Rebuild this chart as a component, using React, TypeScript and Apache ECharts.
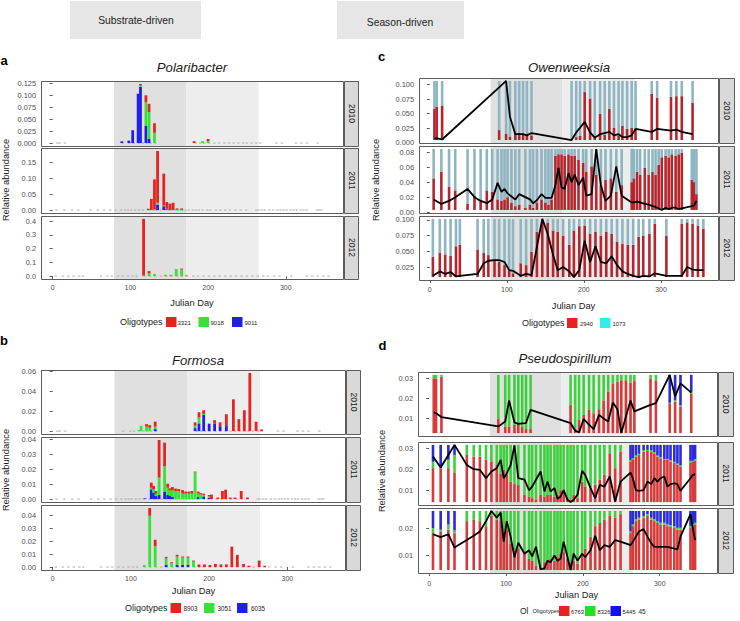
import React, { useEffect, useRef } from "react";
import * as echarts from "echarts";

// ---------- shared categories ----------
const years = ["2010", "2011", "2012"];
const springDays = [79, 172];
const summerDays = [172, 265];
const dayTicks = [0, 100, 200, 300];

// sampling days (Julian day)
const days2010 = [6, 9, 16, 90, 99, 104, 111, 116, 121, 126, 132, 184, 190, 195, 201, 208, 214, 221, 227, 233, 239, 245, 250, 256, 262, 267, 288, 295, 313, 320, 327, 341];
const days2011 = [5, 15, 25, 33, 49, 58, 66, 74, 81, 88, 93, 97, 101, 106, 111, 116, 124, 130, 134, 139, 145, 150, 154, 158, 163, 167, 171, 175, 180, 184, 188, 193, 199, 203, 210, 216, 222, 228, 235, 242, 249, 262, 265, 269, 273, 279, 284, 289, 293, 297, 301, 306, 310, 314, 319, 323, 327, 340, 343, 346];
const days2012 = [4, 13, 20, 27, 34, 39, 62, 70, 76, 84, 90, 97, 103, 108, 118, 125, 132, 139, 146, 153, 160, 166, 173, 181, 187, 194, 201, 208, 215, 222, 229, 236, 243, 250, 257, 264, 271, 277, 285, 292, 307, 327, 334, 341, 348, 355];

// ---------- a: Polaribacter (cumulative tops: 9011 blue, +9018 green, +3321 red) ----------
const aOligotypes = ["3321", "9018", "9011"];
const aDays2010 = [89, 98, 103, 110, 113, 120, 124, 131, 182, 193, 200];
const aBlue2010 = [0.0036, 0.005, 0.027, 0.104, 0.1185, 0.036, 0.0086, 0, 0, 0, 0];
const aGreen2010 = [0.0036, 0.005, 0.027, 0.104, 0.121, 0.086, 0.065, 0.0216, 0, 0.004, 0.004];
const aTotal2010 = [0.0036, 0.005, 0.027, 0.104, 0.1245, 0.1006, 0.0826, 0.0417, 0.004, 0.004, 0.0086];
const aDays2011 = [123, 127, 131, 135, 143, 147, 151, 155, 160, 166];
const aBlue2011 = [0, 0, 0, 0.017, 0.012, 0.003, 0, 0, 0, 0];
const aGreen2011 = [0, 0, 0.002, 0.023, 0.014, 0.004, 0, 0, 0.001, 0.001];
const aTotal2011 = [0.004, 0.035, 0.096, 0.185, 0.114, 0.025, 0.02, 0.023, 0.005, 0.005];
const aDays2012 = [117, 124, 131, 145, 152, 159, 166, 172];
const aBlue2012 = [0, 0, 0, 0, 0, 0, 0, 0];
const aGreen2012 = [0.005, 0.02, 0.016, 0.01, 0.01, 0.052, 0.048, 0.008];
const aTotal2012 = [0.417, 0.037, 0.016, 0.01, 0.01, 0.052, 0.055, 0.008];

// ---------- b: Formosa (cumulative tops: 6035 blue, +3051 green, +8903 red) ----------
const bOligotypes = ["8903", "3051", "6035"];
const bDays2010 = [110, 113, 120, 124, 131, 182, 187, 193, 200, 207, 214, 222, 231, 238, 245, 252, 260, 267];
const bBlue2010 = [0, 0, 0, 0, 0.002, 0.003, 0.0078, 0.0163, 0.0075, 0.0075, 0.005, 0.005, 0, 0, 0, 0, 0, 0];
const bGreen2010 = [0.001, 0.0054, 0.0045, 0.0034, 0.0045, 0.0054, 0.0136, 0.0173, 0.0075, 0.0075, 0.005, 0.005, 0, 0, 0, 0, 0, 0];
const bTotal2010 = [0.001, 0.0054, 0.007, 0.006, 0.0095, 0.0088, 0.019, 0.021, 0.0075, 0.011, 0.0088, 0.017, 0.032, 0.012, 0.021, 0.0586, 0.0095, 0.0017];
const bDays2011 = [118, 126, 129, 132, 136, 143, 147, 150, 153, 157, 161, 166, 170, 174, 178, 182, 186, 189, 193, 200, 203, 211, 217, 221, 227, 233, 241, 249];
const bBlue2011 = [0.0005, 0.0065, 0.0043, 0.002, 0.0027, 0.005, 0.0027, 0.002, 0.0013, 0, 0, 0, 0, 0, 0, 0, 0.0013, 0, 0.0018, 0.0009, 0, 0, 0, 0, 0, 0, 0, 0];
const bGreen2011 = [0.0005, 0.0076, 0.0065, 0.0036, 0.0144, 0.022, 0.0076, 0.0058, 0.0058, 0.0054, 0.0054, 0.0036, 0.0036, 0.0036, 0.0036, 0.018, 0.0036, 0.0031, 0.0027, 0.0018, 0, 0, 0, 0, 0, 0, 0, 0];
const bTotal2011 = [0.0005, 0.011, 0.0088, 0.0054, 0.0396, 0.0378, 0.0103, 0.0072, 0.008, 0.007, 0.0067, 0.006, 0.005, 0.005, 0.0054, 0.0184, 0.005, 0.004, 0.0036, 0.0027, 0.003, 0.001, 0.0054, 0.0063, 0.001, 0.001, 0.0054, 0.001];
const bDays2012 = [117, 124, 131, 145, 152, 159, 166, 173, 180, 187, 194, 201, 208, 215, 222, 229, 236, 244, 251, 264, 271];
const bBlue2012 = [0, 0, 0, 0.0016, 0, 0.0016, 0.0016, 0.0016, 0, 0, 0, 0, 0, 0, 0, 0, 0, 0, 0, 0, 0];
const bGreen2012 = [0.0016, 0.0395, 0.016, 0.0068, 0.003, 0.0081, 0.0073, 0.0073, 0.0042, 0, 0, 0, 0, 0, 0, 0, 0, 0, 0, 0, 0];
const bTotal2012 = [0.0016, 0.0455, 0.021, 0.0078, 0.0037, 0.0094, 0.0081, 0.0081, 0.005, 0.002, 0.002, 0.0016, 0.0024, 0.002, 0.002, 0.0157, 0.0094, 0.0024, 0.001, 0.005, 0.001];

// ---------- c: Owenweeksia (red = top of 2940 share, line = relative abundance) ----------
const cOligotypes = ["2940", "1073"];
const cRed2010 = [0.058, 0.062, 0.064, 0.022, 0.016, 0.011, 0.017, 0.017, 0.016, 0.016, 0.013, 0.006, 0.01, 0.012, 0.087, 0.076, 0.012, 0.05, 0.014, 0.058, 0.026, 0.012, 0.029, 0.024, 0.026, 0.024, 0.084, 0.077, 0.079, 0.08, 0.08, 0.069];
const cLine2010 = [0.008, 0.008, 0.006, 0.095, 0.106, 0.045, 0.015, 0.015, 0.015, 0.013, 0.017, 0.005, 0.018, 0.026, 0.036, 0.018, 0.009, 0.015, 0.017, 0.019, 0.013, 0.015, 0.01, 0.01, 0.013, 0.024, 0.019, 0.024, 0.021, 0.023, 0.019, 0.015];
const cRed2011 = [0.045, 0.054, 0.034, 0.029, 0.011, 0.022, 0.017, 0.029, 0.027, 0.017, 0.015, 0.017, 0.02, 0.013, 0.008, 0.01, 0.006, 0.01, 0.006, 0.013, 0.017, 0.013, 0.01, 0.017, 0.075, 0.077, 0.077, 0.075, 0.077, 0.075, 0.075, 0.07, 0.066, 0.054, 0.061, 0.05, 0.036, 0.043, 0.045, 0.027, 0.036, 0.04, 0.045, 0.054, 0.05, 0.059, 0.05, 0.054, 0.05, 0.063, 0.073, 0.075, 0.073, 0.077, 0.075, 0.077, 0.079, 0.043, 0.04, 0.024];
const cLine2011 = [0.017, 0.011, 0.015, 0.02, 0.031, 0.02, 0.015, 0.012, 0.017, 0.039, 0.027, 0.031, 0.025, 0.021, 0.017, 0.024, 0.02, 0.017, 0.012, 0.016, 0.024, 0.019, 0.019, 0.019, 0.036, 0.059, 0.033, 0.031, 0.052, 0.04, 0.05, 0.036, 0.046, 0.022, 0.024, 0.084, 0.036, 0.015, 0.022, 0.061, 0.022, 0.013, 0.013, 0.014, 0.013, 0.011, 0.01, 0.008, 0.007, 0.005, 0.003, 0.006, 0.004, 0.006, 0.006, 0.004, 0.005, 0.008, 0.009, 0.015];
const cRed2012 = [0.041, 0.048, 0.045, 0.043, 0.058, 0.06, 0.053, 0.048, 0.044, 0.036, 0.033, 0.028, 0.02, 0.015, 0.031, 0.028, 0.049, 0.081, 0.096, 0.095, 0.083, 0.081, 0.075, 0.06, 0.083, 0.09, 0.091, 0.078, 0.081, 0.075, 0.081, 0.078, 0.065, 0.062, 0.06, 0.06, 0.073, 0.075, 0.078, 0.094, 0.075, 0.094, 0.096, 0.094, 0.091, 0.086];
const cLine2012 = [0.011, 0.018, 0.014, 0.017, 0.01, 0.011, 0.014, 0.031, 0.035, 0.036, 0.036, 0.033, 0.02, 0.019, 0.011, 0.014, 0.012, 0.057, 0.1015, 0.078, 0.044, 0.02, 0.025, 0.018, 0.009, 0.02, 0.067, 0.033, 0.058, 0.033, 0.031, 0.042, 0.028, 0.018, 0.014, 0.011, 0.009, 0.011, 0.01, 0.015, 0.011, 0.011, 0.025, 0.021, 0.02, 0.02];

// ---------- d: Pseudospirillum (tops of 6763 red, 8326 green; 5445 blue above) ----------
const dOligotypes = ["6763", "8326", "5445"];
const dRed2010 = [0.03, 0.03, 0.0308, 0.01, 0.006, 0.006, 0.0069, 0.0077, 0.006, 0.0047, 0.0047, 0.0168, 0.005, 0.0093, 0.0118, 0.0143, 0.0126, 0.0146, 0.019, 0.0234, 0.0275, 0.0283, 0.029, 0.029, 0.0279, 0.029, 0.03, 0.029, 0.0176, 0.0184, 0.016, 0.0222];
const dGreen2010 = [0.0317, 0.0317, 0.0317, 0.0317, 0.0317, 0.0317, 0.0317, 0.0317, 0.0317, 0.0317, 0.0317, 0.0317, 0.0317, 0.0317, 0.0317, 0.0317, 0.0317, 0.0317, 0.0317, 0.0317, 0.0317, 0.0317, 0.0317, 0.0317, 0.0317, 0.0317, 0.0317, 0.0317, 0.0178, 0.019, 0.0165, 0.023];
const dLine2010 = [0.013, 0.0126, 0.0107, 0.006, 0.0085, 0.0189, 0.008, 0.0073, 0.0075, 0.0077, 0.0143, 0.0077, 0.0039, 0.003, 0.0097, 0.0069, 0.0047, 0.0118, 0.01, 0.0085, 0.0179, 0.0146, 0.0027, 0.011, 0.0189, 0.0135, 0.0168, 0.0176, 0.0317, 0.021, 0.0275, 0.0229];
const dRed2011 = [0.0205, 0.0205, 0.0205, 0.0185, 0.0268, 0.026, 0.026, 0.0245, 0.0237, 0.022, 0.018, 0.0197, 0.0173, 0.0141, 0.0129, 0.0125, 0.0078, 0.007, 0.0062, 0.0054, 0.0078, 0.007, 0.0078, 0.0078, 0.007, 0.0078, 0.01, 0.0094, 0.0062, 0.0054, 0.0078, 0.0062, 0.0141, 0.0117, 0.011, 0.0125, 0.015, 0.0173, 0.0276, 0.0205, 0.0284, 0.0237, 0.0244, 0.026, 0.0268, 0.0284, 0.0287, 0.0284, 0.0276, 0.026, 0.0252, 0.0244, 0.0244, 0.0237, 0.023, 0.0222, 0.0213, 0.023, 0.0235, 0.024];
const dGreen2011 = [0.0235, 0.0215, 0.0245, 0.0268, 0.0316, 0.0316, 0.0316, 0.0316, 0.0316, 0.0316, 0.0316, 0.0316, 0.0316, 0.0316, 0.0316, 0.0316, 0.0316, 0.0316, 0.0316, 0.0316, 0.0316, 0.0316, 0.0316, 0.0316, 0.0316, 0.0316, 0.0316, 0.0316, 0.0316, 0.0316, 0.0316, 0.0316, 0.0316, 0.0316, 0.0316, 0.0316, 0.0316, 0.0316, 0.0316, 0.0316, 0.0316, 0.0244, 0.0252, 0.0265, 0.0273, 0.029, 0.0292, 0.029, 0.0282, 0.0265, 0.0257, 0.0249, 0.0249, 0.0242, 0.0235, 0.0227, 0.0218, 0.024, 0.024, 0.0248];
const dLine2011 = [0.026, 0.0208, 0.0268, 0.0316, 0.022, 0.02, 0.0197, 0.0157, 0.0189, 0.0205, 0.0244, 0.0157, 0.018, 0.022, 0.0313, 0.0157, 0.015, 0.01, 0.0117, 0.015, 0.0189, 0.0094, 0.0141, 0.0094, 0.011, 0.0059, 0.007, 0.01, 0.0054, 0.0043, 0.0054, 0.0078, 0.0192, 0.0173, 0.011, 0.0062, 0.0125, 0.0117, 0.0165, 0.0046, 0.0141, 0.0184, 0.0157, 0.01, 0.0097, 0.01, 0.0141, 0.0129, 0.0157, 0.0141, 0.0157, 0.0165, 0.0117, 0.0129, 0.0133, 0.0129, 0.0097, 0.0157, 0.0173, 0.0176];
const dRed2012 = [0.0182, 0.0188, 0.0195, 0.0182, 0.0227, 0.0233, 0.0227, 0.0208, 0.0246, 0.0233, 0.0227, 0.0188, 0.0195, 0.0144, 0.0118, 0.0124, 0.0105, 0.0086, 0.0079, 0.006, 0.0054, 0.0073, 0.0079, 0.0086, 0.0079, 0.0092, 0.0105, 0.0111, 0.0086, 0.0073, 0.0079, 0.0067, 0.0099, 0.0124, 0.0169, 0.0208, 0.022, 0.0233, 0.0246, 0.024, 0.0253, 0.0182, 0.0208, 0.0227, 0.0233, 0.024, 0.0246, 0.0233, 0.0227, 0.022, 0.0214, 0.0214, 0.0208, 0.0205, 0.0201, 0.0195, 0.0195, 0.0201, 0.0208, 0.0214];
const dGreen2012 = [0.0201, 0.0195, 0.0214, 0.0192, 0.0265, 0.0265, 0.0265, 0.0265, 0.0265, 0.0265, 0.0265, 0.0265, 0.0265, 0.0265, 0.0265, 0.0265, 0.0265, 0.0265, 0.0265, 0.0265, 0.0265, 0.0265, 0.0265, 0.0265, 0.0265, 0.0265, 0.0265, 0.0265, 0.0265, 0.0265, 0.0265, 0.0265, 0.0265, 0.0265, 0.0265, 0.0265, 0.0265, 0.0265, 0.0265, 0.0265, 0.0265, 0.0189, 0.0215, 0.0234, 0.024, 0.0246, 0.0253, 0.024, 0.0234, 0.0227, 0.0221, 0.0221, 0.0215, 0.0212, 0.0208, 0.0202, 0.0202, 0.0209, 0.0215, 0.0221];
const dLine2012 = [0.0178, 0.0167, 0.0178, 0.0128, 0.0156, 0.0172, 0.0188, 0.0227, 0.0265, 0.024, 0.0259, 0.015, 0.0227, 0.0169, 0.0092, 0.0146, 0.0105, 0.0118, 0.0095, 0.0131, 0.0047, 0.005, 0.0079, 0.0073, 0.0099, 0.0079, 0.0086, 0.015, 0.0092, 0.0044, 0.0105, 0.0079, 0.0105, 0.0092, 0.0118, 0.0172, 0.0118, 0.0137, 0.0131, 0.0156, 0.015, 0.0137, 0.015, 0.0169, 0.0188, 0.0197, 0.0169, 0.0144, 0.0131, 0.0131, 0.0131, 0.0131, 0.0131, 0.0128, 0.0124, 0.0121, 0.0169, 0.0253, 0.0201, 0.0156];

// y tick labels per facet
const aTicks = [[0, 0.025, 0.05, 0.075, 0.1, 0.125], [0, 0.05, 0.1, 0.15], [0, 0.1, 0.2, 0.3, 0.4]];
const bTicks = [[0, 0.02, 0.04, 0.06], [0, 0.01, 0.02, 0.03, 0.04], [0, 0.01, 0.02, 0.03, 0.04]];
const cTicks = [[0, 0.025, 0.05, 0.075, 0.1], [0, 0.02, 0.04, 0.06, 0.08], [0.025, 0.05, 0.075, 0.1]];
const dTicks = [[0.01, 0.02, 0.03], [0.01, 0.02, 0.03], [0.01, 0.02]];

// ---------- styling ----------
const FONT = '"Liberation Sans", Arial, Helvetica, sans-serif';
const RED = "#e8221f";
const GREEN = "#38e038";
const BLUE = "#1f1fe8";
const C_RED = "#b3262e";
const C_CYAN = "#8eb5c2";
const D_RED = "#d63a3a";
const D_GREEN = "#3dd03d";
const D_BLUE = "#2b2bd8";

const layout: Record<string, any> = {
  a: { left: 41, width: 302, rows: [[81, 65], [148, 65], [216, 63]], xRange: [-15, 373.6], xMargin: 4, stripW: 14, dec: [3, 2, 1] },
  b: { left: 41, width: 304, rows: [[370, 64], [437, 65], [505, 65]], xRange: [-15, 373.7], xMargin: 4, stripW: 14, dec: [2, 2, 2] },
  c: { left: 419, width: 299, rows: [[78, 65], [146, 67], [216, 64]], xRange: [-14, 374], xMargin: 5, stripW: 15, dec: [3, 2, 3] },
  d: { left: 418, width: 299, rows: [[372, 64], [442, 63], [508, 65]], xRange: [-14.5, 374.5], xMargin: 6, stripW: 15, dec: [2, 2, 2] },
};

function stackRenderer(colors: string[], barW: number) {
  return (_p: any, api: any) => {
    const x = api.value(0);
    let prev = api.value(1);
    const children: any[] = [];
    colors.forEach((color, i) => {
      const top = api.value(2 + i);
      if (top > prev) {
        const p0 = api.coord([x, prev]);
        const p1 = api.coord([x, top]);
        children.push({
          type: "rect",
          shape: { x: p0[0] - barW / 2, y: p1[1], width: barW, height: Math.max(p0[1] - p1[1], 0.7) },
          style: { fill: color },
        });
        prev = top;
      }
    });
    return { type: "group", children };
  };
}

function buildOption() {
  const grid: any[] = [];
  const xAxis: any[] = [];
  const yAxis: any[] = [];
  const series: any[] = [];
  const graphic: any[] = [];

  const addFacet = (panel: string, row: number, yMin: number, yMax: number, ticks: number[], extra: (gi: number) => void) => {
    const L = layout[panel];
    const [top, height] = L.rows[row];
    const gi = grid.length;
    const bottomRow = row === 2;
    grid.push({ left: L.left, top, width: L.width, height, show: false });
    xAxis.push({
      type: "value", gridIndex: gi, min: L.xRange[0], max: L.xRange[1],
      axisLine: { show: false }, splitLine: { show: false },
      axisTick: { show: bottomRow, customValues: dayTicks, length: 3, lineStyle: { color: "#333", width: 0.8 } },
      axisLabel: { show: bottomRow, customValues: dayTicks, margin: L.xMargin + 1, fontSize: 7, color: "#4d4d4d", fontFamily: FONT },
    });
    const dec = L.dec[row];
    yAxis.push({
      type: "value", gridIndex: gi, min: yMin, max: yMax,
      axisLine: { show: false }, splitLine: { show: false },
      axisTick: { show: true, customValues: ticks, length: 3, lineStyle: { color: "#333", width: 0.8 } },
      axisLabel: { customValues: ticks, margin: 5, fontSize: 7.4, color: "#4d4d4d", fontFamily: FONT, formatter: (v: number) => v.toFixed(dec) },
    });
    // season shading
    series.push({
      type: "line", xAxisIndex: gi, yAxisIndex: gi, data: [], z: 0, silent: true,
      markArea: {
        silent: true,
        data: [
          [{ xAxis: springDays[0], itemStyle: { color: "#e0e0e0" } }, { xAxis: springDays[1] }],
          [{ xAxis: summerDays[0], itemStyle: { color: "#ededed" } }, { xAxis: summerDays[1] }],
        ],
      },
    });
    extra(gi);
    // border
    graphic.push({ type: "rect", z: 100, silent: true, shape: { x: L.left + 0.5, y: top + 0.5, width: L.width, height }, style: { fill: "none", stroke: "#5c5c5c", lineWidth: 1 } });
    // strip
    const sx = L.left + L.width + 1;
    graphic.push({ type: "rect", z: 100, silent: true, shape: { x: sx + 0.5, y: top + 0.5, width: L.stripW, height }, style: { fill: "#d9d9d9", stroke: "#5c5c5c", lineWidth: 1 } });
    graphic.push({ type: "text", z: 101, silent: true, x: sx + L.stripW / 2 + 0.5, y: top + height / 2, rotation: -Math.PI / 2, style: { text: years[row], fontSize: 8.5, fontFamily: FONT, fill: "#1a1a1a", align: "center", verticalAlign: "middle" } });
  };

  const addAB = (panel: string, row: number, days: number[], blue: number[], green: number[], total: number[], samples: number[], ticks: number[]) => {
    const mx = Math.max(...total);
    addFacet(panel, row, -0.05 * mx, 1.05 * mx, ticks, (gi) => {
      series.push({
        type: "scatter", xAxisIndex: gi, yAxisIndex: gi, z: 1, silent: true,
        symbol: "rect", symbolSize: [2.4, 1.2], itemStyle: { color: "#a9a9a9" },
        data: samples.map((d) => [d, 0]),
      });
      series.push({
        type: "custom", xAxisIndex: gi, yAxisIndex: gi, z: 3, silent: true,
        encode: { x: 0, y: [1, 2, 3, 4] },
        renderItem: stackRenderer([BLUE, GREEN, RED], 2.8),
        data: days.map((d, i) => [d, 0, blue[i], green[i], total[i]]),
      });
    });
  };

  const addCD = (panel: string, row: number, days: number[], tops: number[][], colors: string[], line: number[], ticks: number[]) => {
    const lo = Math.min(...line);
    const hi = Math.max(...line);
    const pad = 0.05 * (hi - lo);
    addFacet(panel, row, lo - pad, hi + pad, ticks, (gi) => {
      series.push({
        type: "custom", xAxisIndex: gi, yAxisIndex: gi, z: 3, silent: true,
        encode: { x: 0, y: tops.map((_, k) => k + 1).concat([tops.length + 1]) },
        renderItem: stackRenderer(colors, 2.6),
        data: days.map((d, i) => [d, lo, ...tops.map((t) => t[i]), hi]),
      });
      series.push({
        type: "line", xAxisIndex: gi, yAxisIndex: gi, z: 5, silent: true,
        showSymbol: false, symbol: "none",
        lineStyle: { color: "#000", width: 1.8 },
        data: days.map((d, i) => [d, line[i]]),
      });
    });
  };

  addAB("a", 0, aDays2010, aBlue2010, aGreen2010, aTotal2010, days2010, aTicks[0]);
  addAB("a", 1, aDays2011, aBlue2011, aGreen2011, aTotal2011, days2011, aTicks[1]);
  addAB("a", 2, aDays2012, aBlue2012, aGreen2012, aTotal2012, days2012, aTicks[2]);
  addAB("b", 0, bDays2010, bBlue2010, bGreen2010, bTotal2010, days2010, bTicks[0]);
  addAB("b", 1, bDays2011, bBlue2011, bGreen2011, bTotal2011, days2011, bTicks[1]);
  addAB("b", 2, bDays2012, bBlue2012, bGreen2012, bTotal2012, days2012, bTicks[2]);
  addCD("c", 0, days2010, [cRed2010], [C_RED, C_CYAN], cLine2010, cTicks[0]);
  addCD("c", 1, days2011, [cRed2011], [C_RED, C_CYAN], cLine2011, cTicks[1]);
  addCD("c", 2, days2012, [cRed2012], [C_RED, C_CYAN], cLine2012, cTicks[2]);
  addCD("d", 0, days2010, [dRed2010, dGreen2010], [D_RED, D_GREEN, D_BLUE], dLine2010, dTicks[0]);
  addCD("d", 1, days2011, [dRed2011, dGreen2011], [D_RED, D_GREEN, D_BLUE], dLine2011, dTicks[1]);
  addCD("d", 2, days2011, [dRed2012, dGreen2012], [D_RED, D_GREEN, D_BLUE], dLine2012, dTicks[2]);

  const txt = (x: number, y: number, text: string, size: number, opts: any = {}) => ({
    type: "text", z: 110, silent: true, x, y, rotation: opts.rotation || 0,
    style: {
      text, fontSize: size, fontFamily: FONT, fill: opts.fill || "#1a1a1a",
      fontStyle: opts.italic ? "italic" : "normal", fontWeight: opts.bold ? "bold" : "normal",
      align: opts.align || "center", verticalAlign: "middle",
    },
  });

  // headers
  graphic.push({ type: "rect", z: 90, silent: true, shape: { x: 70, y: 1, width: 131, height: 38 }, style: { fill: "#e6e6e6" } });
  graphic.push({ type: "rect", z: 90, silent: true, shape: { x: 337, y: 1, width: 127, height: 38 }, style: { fill: "#e6e6e6" } });
  graphic.push(txt(136, 20, "Substrate-driven", 10.3, { fill: "#222" }));
  graphic.push(txt(400, 22.5, "Season-driven", 10.3, { fill: "#222" }));

  // panel letters and titles
  graphic.push(txt(4, 60, "a", 13, { bold: true, fill: "#000" }));
  graphic.push(txt(4, 340, "b", 13, { bold: true, fill: "#000" }));
  graphic.push(txt(381.5, 56, "c", 13, { bold: true, fill: "#000" }));
  graphic.push(txt(382.5, 345, "d", 13, { bold: true, fill: "#000" }));
  graphic.push(txt(192, 67.5, "Polaribacter", 13.2, { italic: true }));
  graphic.push(txt(198, 360.5, "Formosa", 13.2, { italic: true }));
  graphic.push(txt(569, 67, "Owenweeksia", 13.2, { italic: true }));
  graphic.push(txt(565, 358, "Pseudospirillum", 13.2, { italic: true }));

  // axis titles
  graphic.push(txt(6, 180, "Relative abundance", 9.3, { rotation: Math.PI / 2 }));
  graphic.push(txt(5.5, 470, "Relative abundance", 9.3, { rotation: Math.PI / 2 }));
  graphic.push(txt(375.5, 180, "Relative abundance", 9.3, { rotation: Math.PI / 2 }));
  graphic.push(txt(382, 471, "Relative abundance", 9.3, { rotation: Math.PI / 2 }));
  graphic.push(txt(192, 303, "Julian Day", 9.3));
  graphic.push(txt(193.5, 591, "Julian Day", 9.3));
  graphic.push(txt(573.5, 305.5, "Julian Day", 9.3));
  graphic.push(txt(576.5, 595, "Julian Day", 9.3));

  // legends
  const legend = (y: number, titleX: number, titleSize: number, items: { box: number; label: number; color: string; name: string }[], numSize: number) => {
    graphic.push(txt(titleX, y, "Oligotypes", titleSize, { align: "left" }));
    items.forEach((it) => {
      graphic.push({ type: "rect", z: 110, silent: true, shape: { x: it.box, y: y - 5, width: 10.5, height: 10 }, style: { fill: it.color } });
      graphic.push(txt(it.label, y + 0.5, it.name, numSize, { align: "left", fill: "#222" }));
    });
  };
  legend(322, 120, 9, [
    { box: 166, label: 177.5, color: RED, name: aOligotypes[0] },
    { box: 198.5, label: 210.5, color: GREEN, name: aOligotypes[1] },
    { box: 232, label: 244.5, color: BLUE, name: aOligotypes[2] },
  ], 6);
  legend(608, 125, 9, [
    { box: 170.5, label: 183.5, color: RED, name: bOligotypes[0] },
    { box: 204, label: 217.5, color: GREEN, name: bOligotypes[1] },
    { box: 237, label: 251, color: BLUE, name: bOligotypes[2] },
  ], 6.3);
  legend(323, 522, 9, [
    { box: 567, label: 580, color: RED, name: cOligotypes[0] },
    { box: 600, label: 612.5, color: "#33eded", name: cOligotypes[1] },
  ], 5.8);
  graphic.push(txt(520, 611, "Ol", 8.5, { align: "left" }));
  legend(611, 532.5, 5.8, [
    { box: 559, label: 571, color: RED, name: dOligotypes[0] },
    { box: 585, label: 597.5, color: "#22e022", name: dOligotypes[1] },
    { box: 610.5, label: 622.5, color: "#1212f0", name: dOligotypes[2] },
  ], 5.8);
  graphic.push(txt(638.5, 611.5, "45", 6.5, { align: "left", fill: "#222" }));

  return { animation: false, backgroundColor: "#ffffff", grid, xAxis, yAxis, series, graphic };
}

export default function App() {
  const ref = useRef<HTMLDivElement>(null);
  useEffect(() => {
    if (!ref.current) return;
    const chart = echarts.init(ref.current, undefined, { renderer: "svg" });
    chart.setOption(buildOption() as any);
    return () => chart.dispose();
  }, []);
  return <div ref={ref} style={{ position: "absolute", left: 0, top: 0, width: 740, height: 621, background: "#fff" }} />;
}
